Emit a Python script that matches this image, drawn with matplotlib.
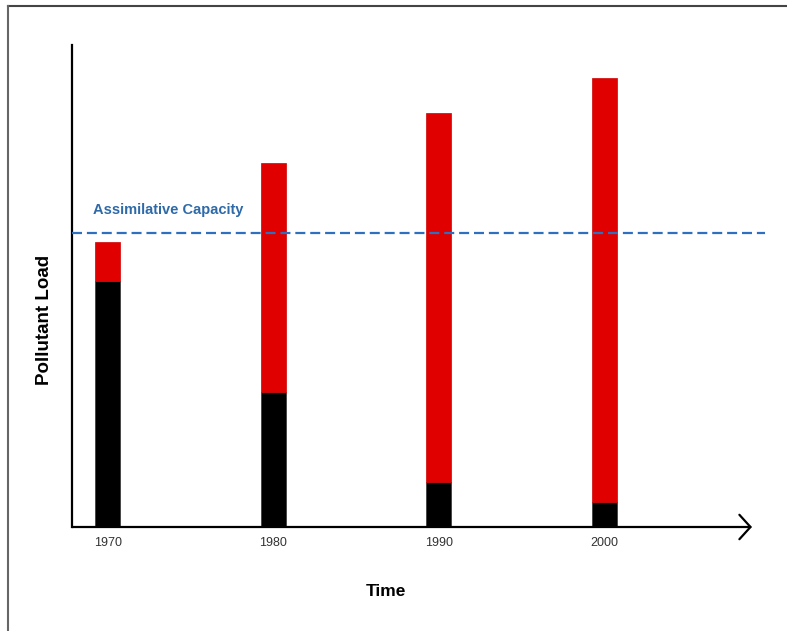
import matplotlib
matplotlib.use("Agg")
import matplotlib.pyplot as plt
from matplotlib.lines import Line2D

# Data (arbitrary pollutant-load units, axis top = 100)
years = [1970, 1980, 1990, 2000]
point_source = [51.0, 28.0, 9.3, 5.2]      # black segment
nonpoint_source = [8.1, 47.5, 76.6, 88.0]  # red segment stacked on top
capacity = 61.0
capacity_label = "Assimilative Capacity"
xlabel = "Time"
ylabel = "Pollutant Load"

plt.rcParams['font.family'] = ['Liberation Sans', 'DejaVu Sans']

fig = plt.figure(figsize=(7.87, 6.31), dpi=100)
ax = fig.add_axes([72/787, 104/631, 680/787, 482/631])

bw = 1.5
ax.bar(years, point_source, width=bw, color='black', edgecolor='#333333', linewidth=0.5, zorder=2)
ax.bar(years, nonpoint_source, bottom=point_source, width=bw, color='#e00000',
       edgecolor='#d00000', linewidth=0.5, zorder=2)

ax.set_xlim(1967.85, 2008.9)
ax.set_ylim(0, 100)

# Assimilative capacity line
ax.axhline(capacity, xmin=0, xmax=(765-72)/680, color='#2f6fbf', lw=1.6,
           linestyle=(0, (4.5, 2.2)), clip_on=False, zorder=3)
ax.text((93-72)/680, (527-210)/482, capacity_label, transform=ax.transAxes,
        color='#2e6aa8', fontsize=10.5, fontweight='bold', va='center', ha='left')

for s in ['top', 'right']:
    ax.spines[s].set_visible(False)
ax.spines['left'].set_linewidth(1.6)
ax.spines['bottom'].set_visible(False)

# bottom axis with open arrowhead
ax.annotate('', xy=(1.0, 0), xytext=(0, 0), xycoords='axes fraction',
            arrowprops=dict(arrowstyle='->,head_length=0.5,head_width=0.55',
                            mutation_scale=16, lw=1.6, color='black',
                            shrinkA=0, shrinkB=0), annotation_clip=False)

ax.set_xticks(years)
ax.set_xticklabels([str(y) for y in years], fontsize=9, color='#333333')
ax.tick_params(axis='x', length=0, pad=7)
ax.set_yticks([])

ax.set_xlabel(xlabel, fontsize=12.5, fontweight='bold')
ax.xaxis.set_label_coords((386-72)/680, -(57)/482)
ax.set_ylabel(ylabel, fontsize=13.5, fontweight='bold')
ax.yaxis.set_label_coords(-(19)/680, (527-320)/482)

# Figure border (top and left visible)
fig.add_artist(Line2D([8/787, 1.0], [1-6/631, 1-6/631], transform=fig.transFigure,
                      color='#444444', lw=1.5))
fig.add_artist(Line2D([8/787, 8/787], [0, 1-6/631], transform=fig.transFigure,
                      color='#666666', lw=1.5))

fig.savefig('out.png', dpi=100)
